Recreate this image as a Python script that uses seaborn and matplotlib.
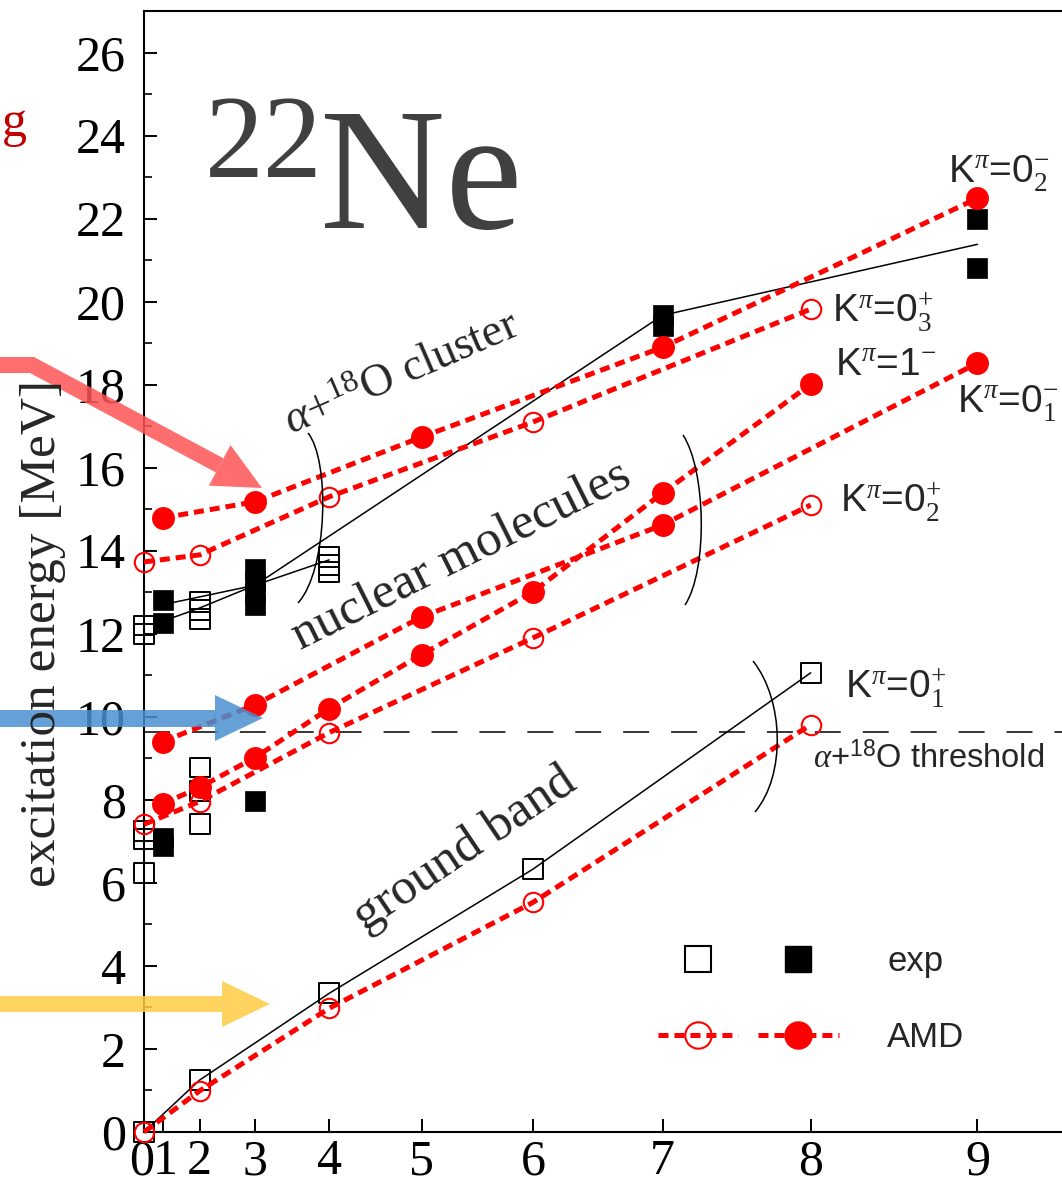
import numpy as np
import pandas as pd
import matplotlib
matplotlib.use("Agg")
import matplotlib.pyplot as plt
import seaborn as sns
from matplotlib.lines import Line2D
from matplotlib.patches import Polygon, PathPatch
from matplotlib.path import Path
from matplotlib.transforms import Affine2D, ScaledTranslation
from matplotlib.legend_handler import HandlerTuple
from matplotlib.ticker import MultipleLocator

# ---------------- data ----------------
spins = list(range(10))
threshold_E = 9.64          # alpha + 18O threshold (MeV)

# AMD bands (spin J, excitation energy in MeV)
gs_J, gs_E = [0, 2, 4, 6, 8], [0.00, 0.99, 2.98, 5.53, 9.81]
k02p_J, k02p_E = [0, 2, 4, 6, 8], [7.41, 7.96, 9.62, 11.90, 15.10]
k01m_J, k01m_E = [1, 3, 5, 7, 9], [9.40, 10.29, 12.41, 14.62, 18.52]
k1m_J, k1m_E = [1, 2, 3, 4, 5, 6, 7, 8], [7.90, 8.30, 9.02, 10.20, 11.50, 13.01, 15.39, 18.01]
k03p_J, k03p_E = [0, 2, 4, 6, 8], [13.73, 13.90, 15.30, 17.10, 19.82]
k02m_J, k02m_E = [1, 3, 5, 7, 9], [14.79, 15.18, 16.74, 18.90, 22.49]

amd_bands = ["0_1+", "0_2+", "0_1-", "1-", "0_3+", "0_2-"]
amd_J = [gs_J, k02p_J, k01m_J, k1m_J, k03p_J, k02m_J]
amd_E = [gs_E, k02p_E, k01m_E, k1m_E, k03p_E, k02m_E]
amd_filled = [False, False, True, True, False, True]

# experimental levels: positive parity (open) and negative parity (filled)
exp_pos_J = [0, 0, 0, 0, 0, 0, 2, 2, 2, 2, 2, 2, 2, 4, 4, 4, 4, 6, 8]
exp_pos_E = [0.00, 6.23, 7.05, 7.24, 12.00, 12.20,
             1.25, 7.42, 8.22, 8.78, 12.36, 12.58, 12.77,
             3.34, 13.49, 13.66, 13.85, 6.33, 11.06]
exp_neg_J = [1, 1, 1, 1, 3, 3, 3, 3, 3, 7, 7, 9, 9]
exp_neg_E = [6.88, 7.09, 12.27, 12.82, 7.98, 12.70, 12.99, 13.27, 13.56,
             19.41, 19.67, 20.80, 21.98]

# experimental band connections
exp_gs_J, exp_gs_E = [0, 2, 4, 6, 8], [0.00, 1.25, 3.34, 6.33, 11.06]
exp_cla_J, exp_cla_E = [1, 3, 4], [12.70, 13.17, 13.78]
exp_clb_J, exp_clb_E = [1, 2, 3, 7, 9], [12.30, 12.62, 13.17, 19.67, 21.38]

band_texts = [r"K$^{\pi}$=0$^{-}_{2}$", r"K$^{\pi}$=0$^{+}_{3}$", r"K$^{\pi}$=1$^{-}$",
              r"K$^{\pi}$=0$^{-}_{1}$", r"K$^{\pi}$=0$^{+}_{2}$", r"K$^{\pi}$=0$^{+}_{1}$"]


def jj(J):
    return np.asarray(J) * (np.asarray(J) + 1)


# ---------------- style ----------------
sns.set_style("ticks")
plt.rcParams.update({
    "font.family": ["Liberation Serif", "DejaVu Serif"],
    "mathtext.fontset": "custom",
    "mathtext.rm": "Liberation Serif",
    "mathtext.it": "Liberation Serif:italic",
    "mathtext.sf": "Liberation Sans",
    "mathtext.bf": "Liberation Serif:bold",
    "lines.scale_dashes": False,
    "axes.linewidth": 1.5,
})

W, H = 1062, 1184
fig = plt.figure(figsize=(W / 100, H / 100), dpi=100, facecolor="white")
ax = fig.add_axes([144 / W, 1 - 1132 / H, 926 / W, 1121 / H])
ax.set_xlim(0, 100)
ax.set_ylim(0, 27)

pix = Affine2D().scale(1, -1).translate(0, H)   # pixel coords, origin top-left

# threshold line
ax.axhline(threshold_E, color="black", lw=1.1, dashes=(18.7, 15.8), zorder=1)

# experimental band lines
for Js, Es in [(exp_gs_J, exp_gs_E), (exp_cla_J, exp_cla_E), (exp_clb_J, exp_clb_E)]:
    sns.lineplot(x=jj(Js), y=Es, ax=ax, sort=False, estimator=None,
                 color="black", lw=1.1, zorder=2, clip_on=False)

# experimental levels
exp_df = pd.DataFrame({
    "X": np.concatenate([jj(exp_pos_J), jj(exp_neg_J)]),
    "E": exp_pos_E + exp_neg_E,
    "parity": ["+"] * len(exp_pos_E) + ["-"] * len(exp_neg_E),
})
sns.scatterplot(data=exp_df[exp_df.parity == "+"], x="X", y="E", ax=ax, marker="s",
                s=205, facecolor="none", edgecolor="black", linewidth=1.4,
                zorder=3, clip_on=False)
sns.scatterplot(data=exp_df[exp_df.parity == "-"], x="X", y="E", ax=ax, marker="s",
                s=200, color="black", edgecolor="black", linewidth=0.5,
                zorder=3, clip_on=False)

# AMD bands
amd_df = pd.concat([
    pd.DataFrame({"band": name, "X": jj(Js), "E": Es, "filled": f})
    for name, Js, Es, f in zip(amd_bands, amd_J, amd_E, amd_filled)
], ignore_index=True)
red_dots = (0, (7.2, 4.3))
for name in amd_bands:
    sub = amd_df[amd_df.band == name]
    filled = bool(sub.filled.iloc[0])
    sns.lineplot(data=sub, x="X", y="E", ax=ax, sort=False, estimator=None,
                 color="red", lw=3.6, linestyle=red_dots,
                 marker="o", markersize=15 if filled else 14,
                 markerfacecolor="red" if filled else "none",
                 markeredgecolor="red", markeredgewidth=1.5,
                 zorder=4, clip_on=False)

# axes cosmetics
ax.set_xticks(jj(spins))
ax.set_xticklabels([str(j) for j in spins])
ax.set_yticks(np.arange(0, 27, 2))
ax.yaxis.set_minor_locator(MultipleLocator(1))
ax.tick_params(axis="both", which="major", direction="in", length=9.5, width=1.4,
               labelsize=36, colors="black")
ax.tick_params(axis="y", which="major", pad=13)
ax.tick_params(axis="x", which="major", pad=5)
ax.tick_params(axis="y", which="minor", direction="in", length=5.5, width=1.4)
ax.set_xlabel("")
ax.set_ylabel("")
for s in ax.spines.values():
    s.set_color("black")

# the first two spin labels sit very close together; nudge them apart a little
xt = ax.get_xticklabels()
xt[0].set_transform(xt[0].get_transform() + ScaledTranslation(-2 / 100, 0, fig.dpi_scale_trans))
xt[1].set_transform(xt[1].get_transform() + ScaledTranslation(3 / 100, 0, fig.dpi_scale_trans))

fig.text(55, 633, "excitation energy [MeV]", transform=pix, rotation=90,
         rotation_mode="anchor", ha="center", va="baseline", fontsize=37)

# nucleus name
fig.text(205, 177, "22", transform=pix, fontsize=85, color="#404040", va="baseline")
fig.text(320, 228, "Ne", transform=pix, fontsize=125, color="#404040", va="baseline")

# band labels
label_pos = [(948, 183), (832, 322), (835, 375), (957, 413), (840, 512), (845, 698)]
for txt, (px_, py_) in zip(band_texts, label_pos):
    fig.text(px_, py_, txt, transform=pix, fontsize=28, va="baseline",
             family="Liberation Sans")
fig.text(813, 768, r"$\alpha$+$^{\mathsf{18}}$O threshold", transform=pix,
         fontsize=23.5, va="baseline", family="Liberation Sans")

# group descriptions
fig.text(407, 385, r"$\alpha$+$^{18}$O cluster", transform=pix, fontsize=33,
         rotation=23.5, rotation_mode="anchor", ha="center", va="baseline")
fig.text(467, 568, "nuclear molecules", transform=pix, fontsize=37,
         rotation=26.5, rotation_mode="anchor", ha="center", va="baseline")
fig.text(472, 860, "ground band", transform=pix, fontsize=37,
         rotation=34, rotation_mode="anchor", ha="center", va="baseline")

# brackets
for p0, p1, p2, p3 in [((308, 433), (330, 460), (328, 570), (298, 603)),
                       ((683, 435), (706, 470), (708, 570), (685, 605)),
                       ((753, 661), (784, 700), (786, 775), (755, 812))]:
    path = Path([p0, p1, p2, p3], [Path.MOVETO, Path.CURVE4, Path.CURVE4, Path.CURVE4])
    fig.add_artist(PathPatch(path, transform=pix, fill=False, lw=1.1, ec="black"))

# legend
h_open_sq = Line2D([], [], ls="none", marker="s", ms=19, mfc="none", mec="black", mew=1.5)
h_fill_sq = Line2D([], [], ls="none", marker="s", ms=19, mfc="black", mec="black")
h_open_c = Line2D([], [], color="red", lw=3.6, ls=red_dots, marker="o", ms=19,
                  mfc="none", mec="red", mew=1.5)
h_fill_c = Line2D([], [], color="red", lw=3.6, ls=red_dots, marker="o", ms=19,
                  mfc="red", mec="red", mew=1.5)
ax.legend([(h_open_sq, h_fill_sq), (h_open_c, h_fill_c)], ["exp", "AMD"],
          handler_map={tuple: HandlerTuple(ndivide=None, pad=0.58)},
          handlelength=5.2, handletextpad=1.4, labelspacing=1.25,
          frameon=False, prop={"family": "Liberation Sans", "size": 25},
          loc="upper left", bbox_to_anchor=(658 / W, 1 - 945 / H),
          bbox_transform=fig.transFigure, borderpad=0, borderaxespad=0)

# highlight arrows (partly outside the canvas on the left)
def arrow_head(tip, direction, head_w, head_l):
    d = np.asarray(direction, float)
    d /= np.linalg.norm(d)
    n = np.array([-d[1], d[0]])
    tip = np.asarray(tip, float)
    base = tip - head_l * d
    return base, [tip, base + n * head_w / 2, base - n * head_w / 2]

def add_arrow(points, tip, color, shaft_px=16, head_w=46, head_l=48):
    pts = np.asarray(points, float)
    base, head = arrow_head(tip, np.asarray(tip) - pts[-1], head_w, head_l)
    xs = list(pts[:, 0]) + [base[0]]
    ys = list(pts[:, 1]) + [base[1]]
    fig.add_artist(Line2D(xs, ys, transform=pix, lw=shaft_px * 0.72, color=color,
                          alpha=0.85, solid_joinstyle="miter", solid_capstyle="butt"))
    fig.add_artist(Polygon(head, closed=True, transform=pix, color=color,
                           alpha=0.85, lw=0))

add_arrow([(-40, 365), (32, 365)], (262, 488), "#FF5555")
add_arrow([(-40, 718)], (263, 718), "#4A90D0", shaft_px=17)
add_arrow([(-40, 1004)], (270, 1004), "#FFCC44", shaft_px=16)

fig.text(27, 136, "g", transform=pix, fontsize=36, color="#C00000",
         ha="right", va="baseline")

fig.savefig("out.png", dpi=100)
